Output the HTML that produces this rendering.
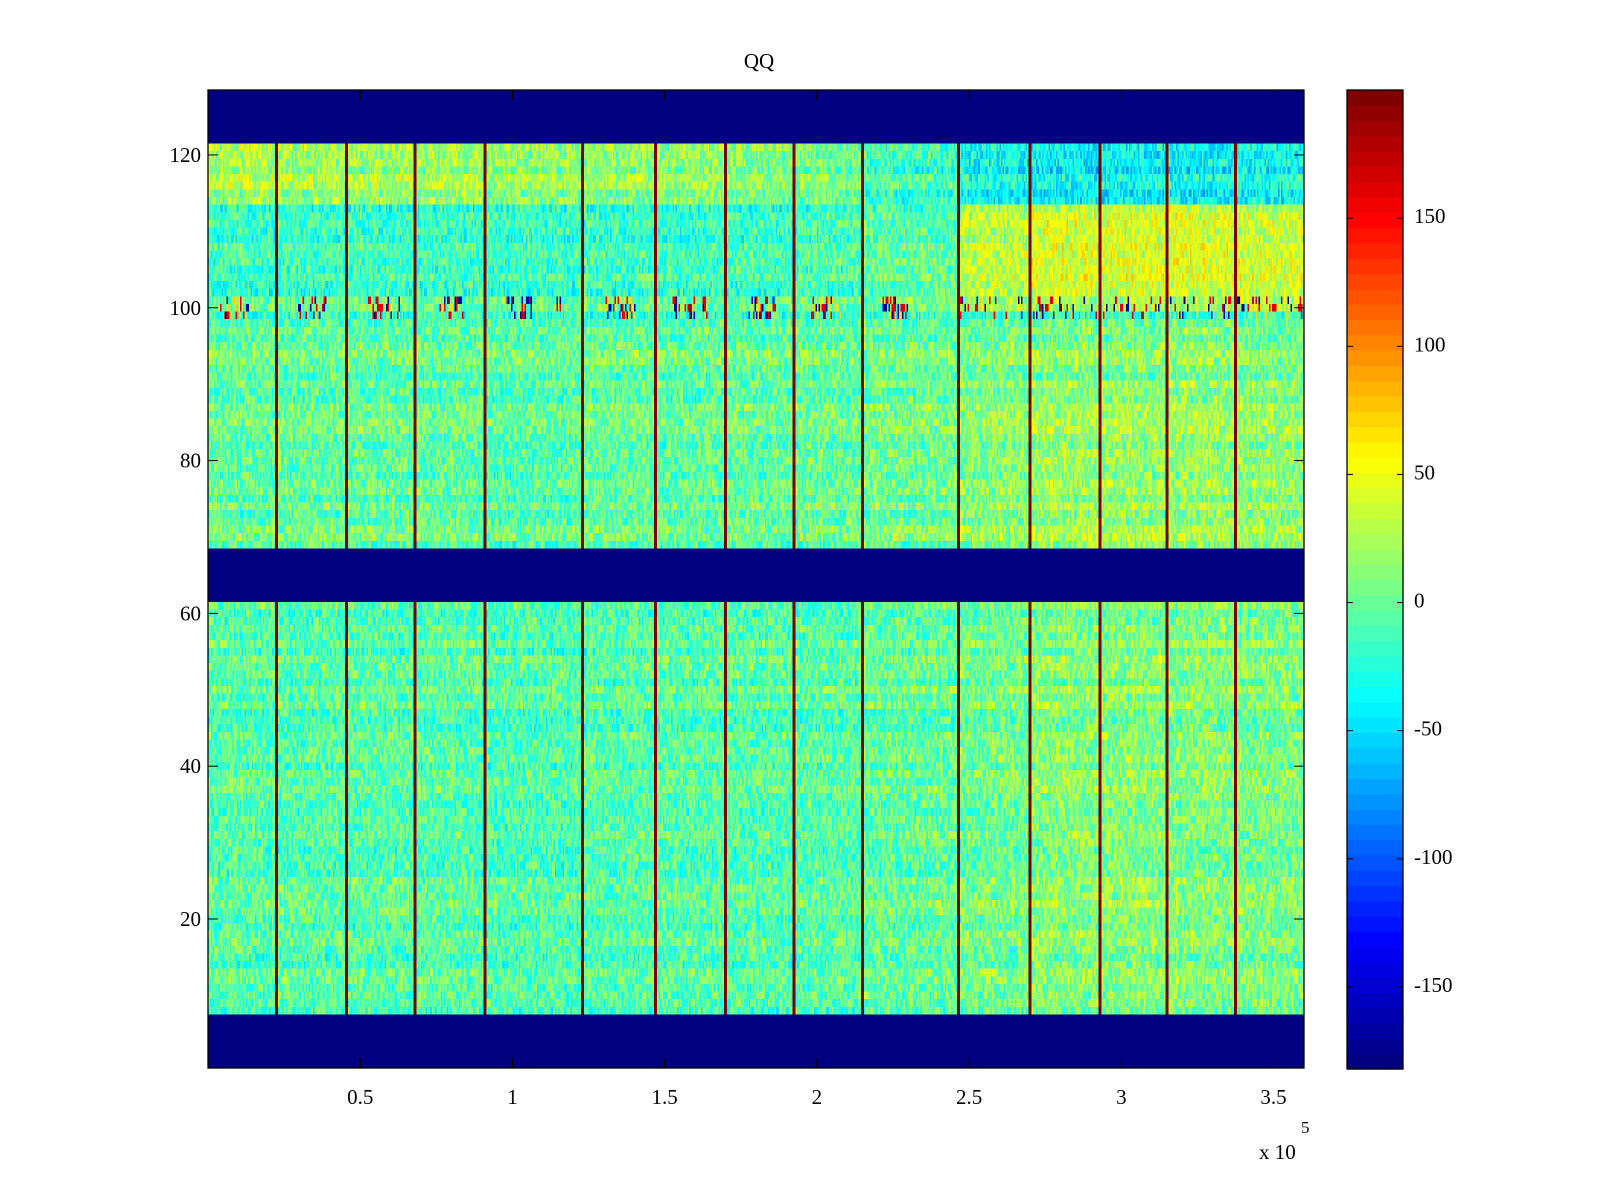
<!DOCTYPE html>
<html><head><meta charset="utf-8"><style>
body{margin:0;background:#fff;width:1600px;height:1200px;overflow:hidden;position:relative;font-family:"Liberation Serif",serif;}
canvas{position:absolute;image-rendering:pixelated;}
svg{position:absolute;left:0;top:0;}
</style></head><body>
<canvas id="hm" width="720" height="128" style="left:208px;top:90px;width:1096px;height:978px"></canvas>
<svg id="s" width="1600" height="1200"></svg>
<script>
// ---- data ----
const xMax = 3.6;               // x extent (x 10^5)
const nCols = 720;
const rowsTotal = 128;
const blueRows = [[1,7],[62,68],[122,128]];
const segBounds = [0.2235,0.453,0.682,0.912,1.229,1.471,1.698,1.923,2.149,2.463,2.702,2.928,3.151,3.377];
const bandA = [-5,-5,-5,-5,-8,-5,-5,-5,-5,0,5,12,12,10,8];      // rows 8-61
const bandB = [0,0,0,0,-5,0,-2,0,0,5,12,20,20,20,16];            // rows 69-98
const bandD = [-15,-15,-15,-15,-15,-15,-15,-15,-10,-3,30,42,42,42,38]; // rows 102-113
const bandE = [25,20,20,20,15,15,15,10,5,-15,-35,-40,-40,-40,-35];    // rows 114-121
const spikeRanges = [[0.041,0.143],[0.294,0.389],[0.524,0.632],[0.76,0.84],[0.97,1.064],[1.138,1.164],[1.306,1.407],[1.525,1.644],[1.772,1.863],[1.98,2.082],[2.217,2.301],[2.45,3.616]];
const spikeDensity = [0.45,0.45,0.45,0.45,0.45,0.45,0.45,0.45,0.45,0.45,0.45,0.2];
const lineValue = 195;
const clim = [-182,200];
const xTicks = [0.5,1,1.5,2,2.5,3,3.5];
const xTickLabels = ["0.5","1","1.5","2","2.5","3","3.5"];
const yTicks = [20,40,60,80,100,120];
const cTicks = [150,100,50,0,-50,-100,-150];

// ---- helpers ----
function jet(t){t=Math.max(0,Math.min(1,t));const k=Math.floor(t*63.999)/63;
 const f=v=>Math.max(0,Math.min(1,1.5-Math.abs(4*k-v)));return [f(3)*255,f(2)*255,f(1)*255];}
function hash(a,b){let h=(a*374761393+b*668265263)^0x5bd1e995;h=(h^(h>>>13))*1274126177;h=h^(h>>>16);return ((h>>>0)%10000)/10000;}
const L=208,T=90,W=1096,H=978;
const xs=v=>L+v/xMax*W;
const ys=v=>T+(128.5-v)/128*H;
function segOf(x){let s=0;while(s<segBounds.length&&x>=segBounds[s])s++;return s;}
function val(r,c){
 const x=(c+0.5)/nCols*xMax;
 for(const [a,b] of blueRows) if(r>=a&&r<=b) return clim[0];
 for(const b of segBounds){ if(Math.abs(x-b)<xMax/nCols*1.0) return lineValue; }
 const s=segOf(x);
 const n=(hash(r,c)-0.5)*70+(hash(r,999)-0.5)*20;
 if(r>=99&&r<=101){
   for(let k=0;k<spikeRanges.length;k++){const [a,b]=spikeRanges[k]; if(x>=a&&x<=b){const h=hash(c,r*7)/spikeDensity[k]*0.45;
     if(h<0.16)return 160; if(h<0.30)return -170; if(h<0.40)return 70;}}
   return (r==99?-25:bandD[s]*0.4)+n;
 }
 if(r<=61) return bandA[s]+n;
 if(r<=98) return (r<=90?bandB[s]:bandB[s]*0.5)+n;
 if(r<=113) return bandD[s]+n;
 return bandE[s]+n;
}
// ---- draw heatmap ----
const cv=document.getElementById('hm'),ctx=cv.getContext('2d');
const img=ctx.createImageData(nCols,rowsTotal);
for(let r=1;r<=rowsTotal;r++)for(let c=0;c<nCols;c++){
 const v=val(r,c);const col=jet((v-clim[0])/(clim[1]-clim[0]));
 const i=((rowsTotal-r)*nCols+c)*4;img.data[i]=col[0];img.data[i+1]=col[1];img.data[i+2]=col[2];img.data[i+3]=255;}
ctx.putImageData(img,0,0);
// ---- svg ----
const NS='http://www.w3.org/2000/svg',svg=document.getElementById('s');
function el(t,a,txt){const e=document.createElementNS(NS,t);for(const k in a)e.setAttribute(k,a[k]);if(txt!=null)e.textContent=txt;svg.appendChild(e);return e;}
let e=el('rect',{x:L,y:T,width:W,height:H,fill:'none',stroke:'#000','stroke-width':1.3});

e=el('text',{x:759,y:68,'font-size':21,'text-anchor':'middle'},'QQ');

xTicks.forEach((v,i)=>{const x=xs(v);
 el('line',{x1:x,y1:T+H,x2:x,y2:T+H-10,stroke:'#000'});el('line',{x1:x,y1:T,x2:x,y2:T+10,stroke:'#000'});
 const t=el('text',{x:x,y:1104,'font-size':21,'text-anchor':'middle'},xTickLabels[i]);
 });
yTicks.forEach(v=>{const y=ys(v);
 el('line',{x1:L,y1:y,x2:L+10,y2:y,stroke:'#000'});el('line',{x1:L+W,y1:y,x2:L+W-10,y2:y,stroke:'#000'});
 const t=el('text',{x:201,y:y+7,'font-size':21,'text-anchor':'end'},String(v));
 });
e=el('text',{x:1259,y:1159,'font-size':21},'x 10');

e=el('text',{x:1301,y:1133,'font-size':17},'5');

// colorbar
const CL=1347,CW=56,CT=90,CH=979;
for(let i=0;i<64;i++){const col=jet(i/63);
 const r=el('rect',{x:CL,y:CT+CH-(i+1)*CH/64,width:CW,height:CH/64+0.6,fill:`rgb(${col.map(Math.round).join(',')})`});
 }
e=el('rect',{x:CL,y:CT,width:CW,height:CH,fill:'none',stroke:'#000','stroke-width':1.3});

const cy=v=>CT+CH-(v-clim[0])/(clim[1]-clim[0])*CH;
cTicks.forEach(v=>{const y=cy(v);
 el('line',{x1:CL,y1:y,x2:CL+6,y2:y,stroke:'#000'});el('line',{x1:CL+CW,y1:y,x2:CL+CW-6,y2:y,stroke:'#000'});
 const t=el('text',{x:1414,y:y+5,'font-size':21},String(v));
 });
</script>
</body></html>
